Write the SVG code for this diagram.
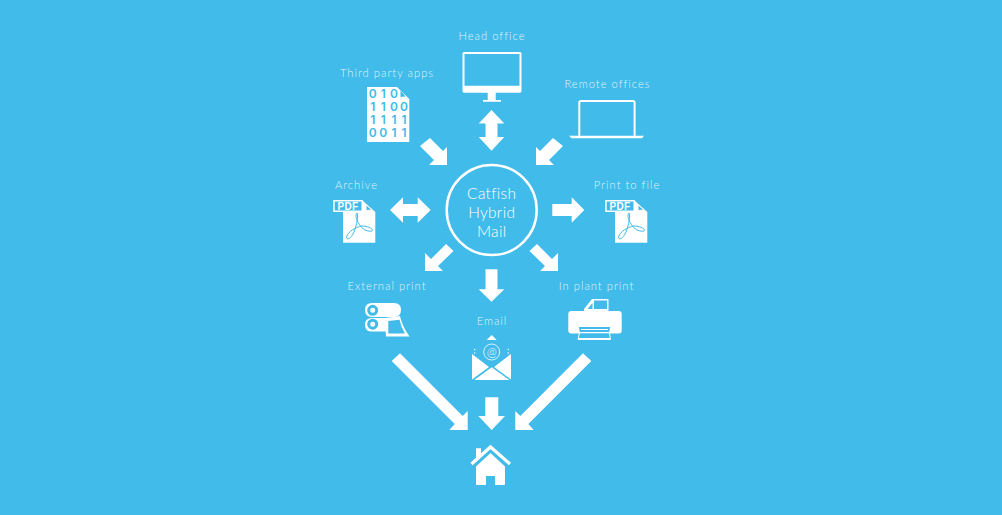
<svg xmlns="http://www.w3.org/2000/svg" width="1002" height="515" viewBox="0 0 1002 515">
<style>
.w{fill:#fff}
.b{fill:#41bbe9}
.lbl{font-family:"Lato","Open Sans","Liberation Sans",sans-serif;font-weight:300;font-size:11.2px;letter-spacing:1px;fill:#fff;fill-opacity:.85;text-anchor:middle}
.ctr{font-family:"Lato","Open Sans","Liberation Sans",sans-serif;font-weight:300;font-size:15.500px;letter-spacing:.3px;fill:#fff;text-anchor:middle}
.bin{font-family:"Inter","Liberation Sans",Arial,sans-serif;font-weight:600;font-size:12px;fill:#41bbe9;text-anchor:middle}
.pdf{font-family:"Liberation Sans",Arial,sans-serif;font-weight:700;font-size:10px;letter-spacing:.4px;fill:#fff;text-anchor:middle}
</style>
<defs>
<g id="pdficon">
<path class="w" d="M343 201H363L375.3 212V242.8H343Z"/>
<path class="b" d="M366.500 205.500L371 209.700L366.500 210Z"/>
<rect x="333.200" y="200" width="29.800" height="12" fill="#fff"/>
<rect x="334.700" y="201.500" width="26.800" height="9" class="b"/>
<path d="M356.500 213.500C355 217 357 221 360.500 226C363 230 369 232 372 231C374 229 368 226 362 226C355 227 348 232 346.500 237C346.500 240.500 351 239 354 232C356 227 358 220 357.500 213.500Z" fill="none" stroke="#41bbe9" stroke-width="1"/>
</g>
</defs>
<rect width="1002" height="515" class="b"/>

<g id="connectors" class="w">
<path d="M491.500 110L504.300 123.500H497.500V137H504.300L491.500 150.700L478.700 137H485.500V123.500H478.700Z"/>
<path d="M430 138L443 151L447 147V165H429L434 160L420 146Z"/>
<path d="M553 138L540 151L536 147V165H554L549 160L563 146Z"/>
<path d="M390 210L403 197.300V204H417.700V197.300L430.700 210L417.700 222.700V216H403V222.700Z"/>
<path d="M552.300 204H571.700V197.300L584.300 210L571.700 222.700V216H552.300Z"/>
<path d="M446 244L453.500 251L438 266L443 271H425V253L431 259Z"/>
<path d="M537 244L529.500 251L545 266L540 271H558V253L552 259Z"/>
<path d="M485.500 269.300H497.500V289.300H504.300L491.500 301.700L478.700 289.300H485.500Z"/>
<path d="M400 353.300L462.700 416L467.700 411V430H449.300L454.700 424L391.700 361Z"/>
<path d="M583 353.300L520.300 416L515.300 411V430H533.700L528.300 424L591.300 361Z"/>
<path d="M485.300 397.300H498.300V416H505L491.700 430L478.300 416H485.300Z"/>
</g>

<g id="centre">
<circle cx="491.700" cy="210" r="45" fill="none" stroke="#fff" stroke-width="2.500"/>
<text class="ctr" x="491.700" y="198.500">Catfish</text>
<text class="ctr" x="491.700" y="217.500">Hybrid</text>
<text class="ctr" x="491.700" y="236.500">Mail</text>
</g>

<g id="head-office">
<text class="lbl" x="492" y="39.500">Head office</text>
<path class="w" d="M464 52H520Q521.500 52 521.500 53.500V91Q521.500 92.700 520 92.700H495.700V100H501V101.700H483V100H487.700V92.700H464Q462.500 92.700 462.500 91V53.500Q462.500 52 464 52ZM464.500 54V85.700H519.500V54Z" fill-rule="evenodd"/>
</g>

<g id="third-party-apps">
<text class="lbl" x="387" y="76.500">Third party apps</text>
<path class="w" d="M367 87H397L409.300 99V142H367Z"/>
<path class="b" d="M400.500 90.500L405.500 96.500L400.500 97Z"/>
<text class="bin" x="372.700 383.300 394" y="97.500">010</text>
<text class="bin" x="372.700 383.300 394 404" y="110.800">1100</text>
<text class="bin" x="372.700 383.300 394 404" y="124.200">1111</text>
<text class="bin" x="372.700 383.300 394 404" y="137.200">0011</text>
</g>

<g id="remote-offices">
<text class="lbl" x="607.500" y="87.500">Remote offices</text>
<path d="M579.300 135.700V102.500Q579.300 101 581 101H633Q634.600 101 634.600 102.500V135.700" fill="none" stroke="#fff" stroke-width="2"/>
<path class="w" d="M569 135.700H644L642 138.300H571.500Z"/>
</g>

<g id="archive">
<text class="lbl" x="356.500" y="189">Archive</text>
<use href="#pdficon"/>
<text class="pdf" x="348" y="209.800">PDF</text>
</g>

<g id="print-to-file">
<text class="lbl" x="627" y="189">Print to file</text>
<use href="#pdficon" x="272"/>
<text class="pdf" x="620" y="209.800">PDF</text>
</g>

<g id="external-print">
<text class="lbl" x="387" y="290">External print</text>
<path class="w" d="M372 303H394Q401 303 401 310Q401 317 394 317H372Q365 317 365 310Q365 303 372 303Z"/>
<path class="w" d="M372 318H386V331.500H372Q365 331.500 365 324.700Q365 318 372 318Z"/>
<circle cx="372.700" cy="310.300" r="4" fill="#fff" stroke="#41bbe9" stroke-width="3"/>
<circle cx="372.700" cy="324.200" r="4" fill="#fff" stroke="#41bbe9" stroke-width="3"/>
<path class="w" d="M385 318L400 316Q402 326 409.500 336.500H386Z"/>
<path class="b" d="M388.300 321L399.500 319.700Q401 327 405 333.500H388.300Z"/>
</g>

<g id="in-plant-print">
<text class="lbl" x="596.500" y="290">In plant print</text>
<path class="w" d="M584 309L592 299H608.500V311H584Z"/>
<path class="b" d="M587.500 309L592.500 303V309ZM594 300.500H607V309H594Z"/>
<rect class="w" x="568.300" y="311" width="53.400" height="22.500" rx="3"/>
<path class="b" d="M579 327H610L609 333.500H580Z"/>
<path d="M581 329.500H608M580 332.500H609M578.500 338.500H611" stroke="#fff" stroke-width="1" fill="none"/>
<path d="M579.500 333L578 339.500H610.500L609.500 333" fill="none" stroke="#fff" stroke-width="1"/>
</g>

<g id="email">
<text class="lbl" x="492" y="325">Email</text>
<path class="w" d="M491.700 335L496.700 340H486.700Z"/>
<circle cx="491.700" cy="352" r="8" fill="none" stroke="#fff" stroke-width=".8"/>
<text x="491.700" y="356" font-family="'Lato','Liberation Sans',Arial,sans-serif" font-weight="300" font-size="12" fill="#fff" text-anchor="middle">@</text>
<circle class="w" cx="474.700" cy="349.500" r=".7"/><circle class="w" cx="474.700" cy="353" r=".7"/>
<circle class="w" cx="508.300" cy="349.500" r=".7"/><circle class="w" cx="508.300" cy="353" r=".7"/>
<path class="w" d="M472 354L489 367L472 379.500ZM511 354L494 367L511 379.500ZM474.300 380L491.700 367.300L509.300 380Z"/>
</g>

<g id="home">
<path class="w" d="M476 448.300H481V455L476 459.500Z"/>
<path d="M471.500 464L490.500 447L510 464" fill="none" stroke="#fff" stroke-width="3.200"/>
<path class="w" fill-rule="evenodd" d="M476 466.500L490.500 453L505 466.500V484Q505 485 504 485H477Q476 485 476 484ZM486 476V485H495V476Z"/>
</g>
</svg>
